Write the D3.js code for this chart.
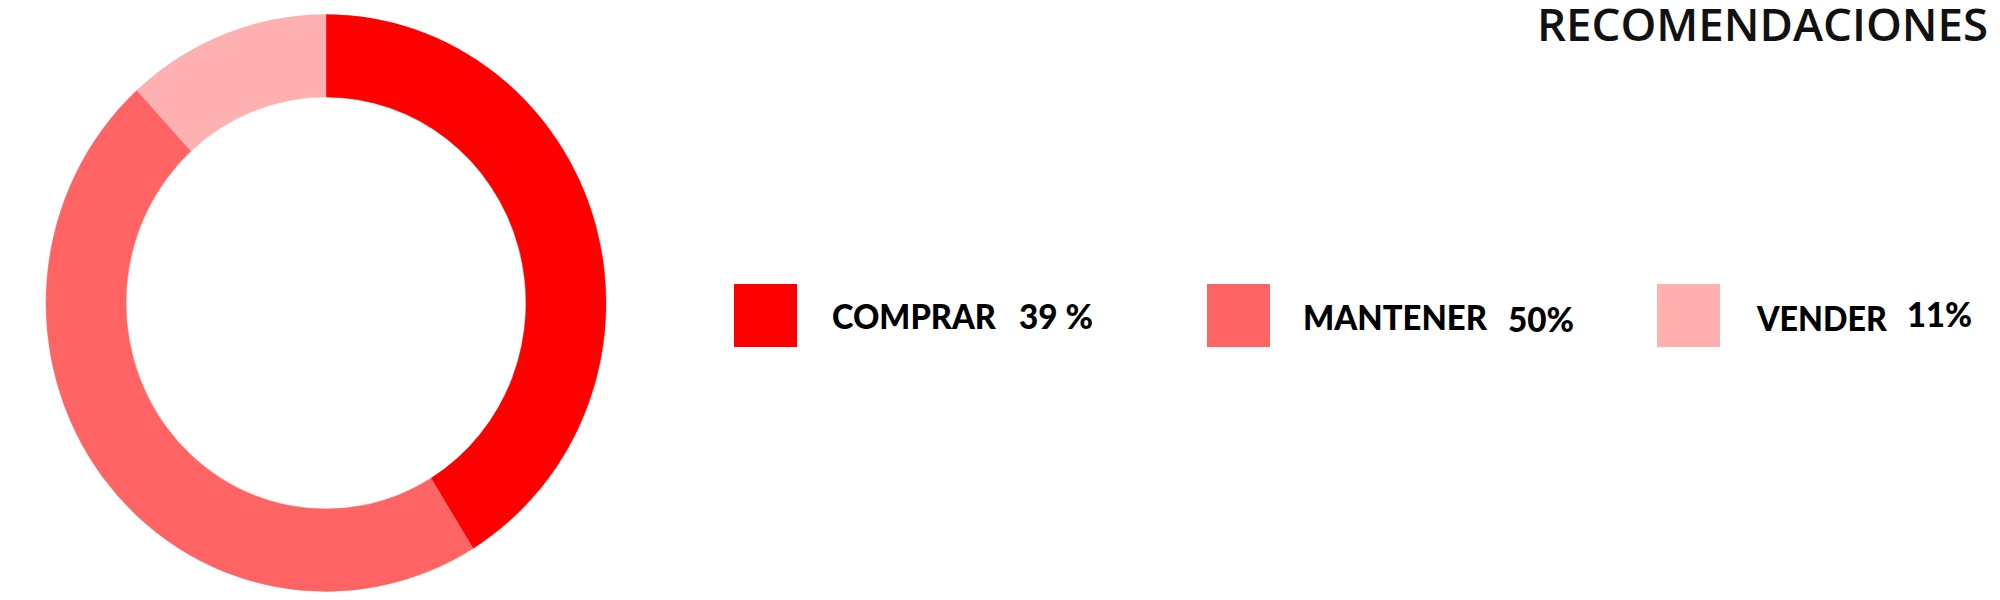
<!DOCTYPE html>
<html>
<head>
<meta charset="utf-8">
<script src="https://cdn.jsdelivr.net/npm/d3@7"></script>
<style>
  body { margin: 0; background: #fff; }
  svg { display: block; }
</style>
</head>
<body>
<script>
// data
var categories = ['COMPRAR', 'MANTENER', 'VENDER']
var shares = [41.2, 47.0, 11.8]          // arc sizes as drawn
var pctLabels = ['39 %', '50%', '11%']   // labels as printed
var colors = ['#ff0000', '#ff6464', '#ffb0b0']
var title = 'RECOMENDACIONES'

var W = 2000, H = 600

var svg = d3.select('body').append('svg')
    .attr('width', W)
    .attr('height', H)

// donut
var pie = d3.pie().sort(null).value(function (d) { return d })
var arc = d3.arc().innerRadius(200).outerRadius(280)

var donut = svg.append('g')
    .attr('transform', 'translate(326,303) scale(1,1.03)')

donut.selectAll('path')
    .data(pie(shares))
    .enter().append('path')
    .attr('d', arc)
    .attr('fill', function (d, i) { return colors[i] })
    .attr('stroke', function (d, i) { return colors[i] })
    .attr('stroke-width', 0.5)

// title
svg.append('text')
    .attr('x', 1537)
    .attr('y', 41)
    .attr('font-family', 'Open Sans, sans-serif')
    .attr('font-weight', 600)
    .attr('font-size', 45)
    .attr('fill', '#111')
    .attr('textLength', 451)
    .attr('lengthAdjust', 'spacingAndGlyphs')
    .text(title)

// legend
var legX = d3.scaleOrdinal().domain(categories).range([734, 1207, 1657])
var nameDx = [98, 96, 100]
var nameW = [164, 184, 130]
var pctDx = [285, 301, 250]
var pctW = [74, 66, 65]
var nameDy = [0, 1, 2]
var pctDy = [0, 3, -2]

var leg = svg.selectAll('.leg')
    .data(categories)
    .enter().append('g')
    .attr('class', 'leg')
    .attr('transform', function (d) { return 'translate(' + legX(d) + ',284)' })

leg.append('rect')
    .attr('width', 63)
    .attr('height', 63)
    .attr('fill', function (d, i) { return colors[i] })

leg.append('text')
    .attr('x', function (d, i) { return nameDx[i] })
    .attr('y', function (d, i) { return 45 + nameDy[i] })
    .attr('font-family', 'Lato, sans-serif')
    .attr('font-weight', 900)
    .attr('font-size', 35)
    .attr('fill', '#000')
    .attr('textLength', function (d, i) { return nameW[i] })
    .attr('lengthAdjust', 'spacingAndGlyphs')
    .text(function (d) { return d })

leg.append('text')
    .attr('x', function (d, i) { return pctDx[i] })
    .attr('y', function (d, i) { return 45 + pctDy[i] })
    .attr('font-family', 'Lato, sans-serif')
    .attr('font-weight', 900)
    .attr('font-size', 35)
    .attr('fill', '#000')
    .attr('textLength', function (d, i) { return pctW[i] })
    .attr('lengthAdjust', 'spacingAndGlyphs')
    .text(function (d, i) { return pctLabels[i] })
</script>
</body>
</html>
